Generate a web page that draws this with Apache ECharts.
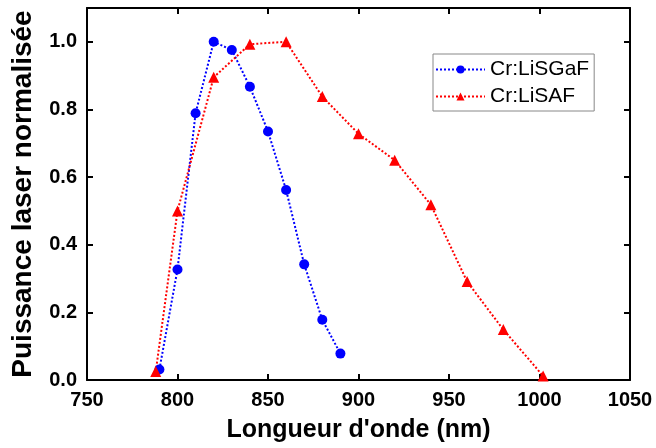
<!DOCTYPE html>
<html>
<head>
<meta charset="utf-8">
<script src="https://cdn.jsdelivr.net/npm/echarts@6/dist/echarts.min.js"></script>
<style>
  html, body { margin: 0; padding: 0; background: #fff; }
  #chart { width: 656px; height: 448px; }
</style>
</head>
<body>
<div id="chart"></div>
<script>
// Cr:LiSGaF
var lisgafX = [790, 800, 810, 820, 830, 840, 850, 860, 870, 880, 890];
var lisgafY = [0.031, 0.327, 0.789, 1.0, 0.976, 0.867, 0.735, 0.562, 0.342, 0.178, 0.078];
// Cr:LiSAF
var lisafX = [788, 800, 820, 840, 860, 880, 900, 920, 940, 960, 980, 1002];
var lisafY = [0.025, 0.5, 0.895, 0.993, 1.0, 0.838, 0.728, 0.65, 0.518, 0.291, 0.149, 0.012];

var xTicks = [750, 1050, 50];
var yTicks = [0, 1.1, 0.2];

function pairs(xs, ys) {
  return xs.map(function (x, i) { return [x, ys[i]]; });
}

var chart = echarts.init(document.getElementById("chart"));
var axisLine = { show: true, onZero: false, lineStyle: { color: "#000", width: 2 } };
var axisTick = { show: true, inside: true, length: 6, lineStyle: { color: "#000", width: 2 } };
var labelFont = { color: "#000", fontFamily: "Liberation Sans", fontWeight: "bold", fontSize: 20 };

var option = {
  animation: false,
  grid: { left: 87, right: 26, top: 8, bottom: 67 },
  legend: {
    orient: "vertical",
    left: 433,
    top: 54,
    itemWidth: 49,
    itemHeight: 10,
    itemGap: 6,
    padding: [5, 5, 4, 2],
    borderColor: "#888",
    borderWidth: 1,
    borderRadius: 0,
    backgroundColor: "#fff",
    textStyle: { color: "#000", fontFamily: "Liberation Sans", fontSize: 21 },
    data: ["Cr:LiSGaF", "Cr:LiSAF"]
  },
  xAxis: [
    {
      type: "value", min: xTicks[0], max: xTicks[1], interval: xTicks[2],
      name: "Longueur d'onde (nm)", nameLocation: "middle", nameGap: 38,
      nameTextStyle: { color: "#000", fontFamily: "Liberation Sans", fontWeight: "bold", fontSize: 25 },
      axisLine: axisLine, axisTick: axisTick,
      axisLabel: Object.assign({ margin: 10, formatter: function (v) { return String(v); } }, labelFont),
      splitLine: { show: false }
    },
    {
      type: "value", position: "top", min: xTicks[0], max: xTicks[1], interval: xTicks[2],
      axisLine: axisLine, axisTick: axisTick, axisLabel: { show: false }, splitLine: { show: false }
    }
  ],
  yAxis: [
    {
      type: "value", min: yTicks[0], max: yTicks[1], interval: yTicks[2],
      name: "Puissance laser normalisée", nameLocation: "middle", nameGap: 50,
      nameTextStyle: { color: "#000", fontFamily: "Liberation Sans", fontWeight: "bold", fontSize: 28 },
      axisLine: axisLine, axisTick: axisTick,
      axisLabel: Object.assign({
        margin: 10, showMaxLabel: false,
        formatter: function (v) { return v.toFixed(1); }
      }, labelFont),
      splitLine: { show: false }
    },
    {
      type: "value", position: "right", min: yTicks[0], max: yTicks[1], interval: yTicks[2],
      axisLine: axisLine, axisTick: axisTick, axisLabel: { show: false }, splitLine: { show: false }
    }
  ],
  series: [
    {
      name: "Cr:LiSGaF", type: "line", data: pairs(lisgafX, lisgafY),
      symbol: "circle", symbolSize: 10,
      itemStyle: { color: "#0000ff" },
      lineStyle: { color: "#0000ff", width: 2, type: "dotted" }
    },
    {
      name: "Cr:LiSAF", type: "line", data: pairs(lisafX, lisafY),
      symbol: "triangle", symbolSize: 11,
      itemStyle: { color: "#ff0000" },
      lineStyle: { color: "#ff0000", width: 2, type: "dotted" }
    }
  ]
};
chart.setOption(option);
</script>
</body>
</html>
